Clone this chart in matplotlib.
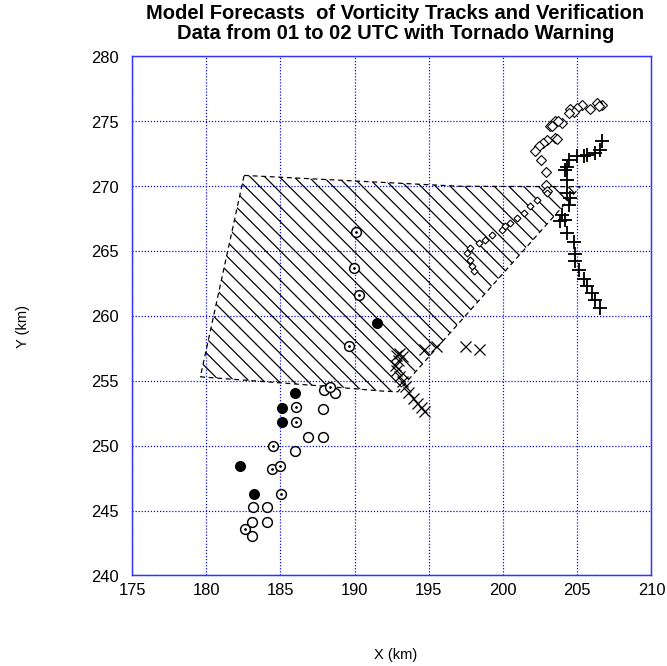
import matplotlib.pyplot as plt
from matplotlib.patches import Polygon

plt.rcParams['font.family'] = ['Liberation Sans', 'DejaVu Sans']
plt.rcParams['hatch.linewidth'] = 1.0

# warning polygon (km)
warn_x = [182.55, 197.1, 205.2, 192.9, 191.9, 187.7, 183.8, 179.6]
warn_y = [270.82, 269.98, 269.95, 254.15, 254.2, 254.6, 254.94, 255.3]

# open circles with centre dot
dot_x = [190.06, 189.97, 190.26, 189.6, 188.35, 186.06, 186.06, 184.5, 184.4, 185.0, 185.03, 182.6]
dot_y = [266.46, 263.7, 261.6, 257.7, 254.5, 253.0, 251.8, 250.0, 248.2, 248.4, 246.3, 243.6]

# plain open circles
open_x = [187.9, 188.7, 187.86, 186.85, 187.86, 186.0, 183.18, 184.12, 183.07, 184.12, 183.07]
open_y = [254.3, 254.05, 252.86, 250.65, 250.65, 249.6, 245.26, 245.26, 244.1, 244.1, 243.0]

# filled circles
fill_x = [191.5, 186.0, 185.1, 185.1, 182.3, 183.2]
fill_y = [259.45, 254.05, 252.9, 251.8, 248.4, 246.3]

# diamonds (northern track)
dia_x = [206.67, 206.33, 206.44, 205.84, 205.32, 204.98, 204.53, 204.76, 204.42, 203.97,
         203.52, 203.7, 203.19, 203.3, 203.52, 202.96, 203.6, 202.7, 202.4, 202.17,
         202.56, 202.9, 202.9, 202.96]
dia_y = [276.27, 276.4, 276.2, 275.9, 276.27, 276.02, 275.9, 275.7, 275.6, 274.87,
         274.99, 275.0, 274.6, 274.6, 273.7, 273.58, 273.6, 273.3, 273.06, 272.7,
         272.04, 271.06, 270.1, 269.6]

# small markers along the warning diagonal
chain_x = [202.96, 202.29, 201.84, 201.39, 200.94, 200.49, 200.15, 199.93, 199.25, 198.8,
           198.35, 197.79, 197.57, 197.79, 197.9, 198.01]
chain_y = [269.47, 268.95, 268.43, 267.93, 267.54, 267.15, 266.89, 266.64, 266.25, 265.86,
           265.61, 265.23, 264.84, 264.33, 263.81, 263.42]

# plus track
plus_x = [206.67, 206.56, 206.2, 205.66, 205.43, 204.99, 204.42, 204.31, 204.2, 204.3,
          204.3, 204.53, 204.42, 203.97, 203.86, 204.2, 204.3, 204.76, 204.83, 204.83,
          205.1, 205.43, 205.66, 206.0, 206.22, 206.56]
plus_y = [273.45, 272.8, 272.55, 272.4, 272.3, 272.3, 272.04, 271.5, 271.26, 270.5,
          269.46, 269.08, 268.57, 267.8, 267.28, 267.4, 266.4, 265.7, 264.8, 264.2,
          263.55, 262.8, 262.27, 261.76, 261.24, 260.6]

# x track
cross_x = [193.0, 192.8, 193.2, 192.9, 192.7, 192.8, 193.0, 193.2, 193.4, 193.6,
           193.9, 194.2, 194.5, 194.7, 194.64, 195.5, 197.45, 198.35]
cross_y = [257.1, 257.0, 256.9, 256.6, 256.2, 255.8, 255.4, 255.0, 254.6, 254.1,
           253.7, 253.3, 253.0, 252.7, 257.45, 257.64, 257.64, 257.44]

fig = plt.figure(figsize=(667.5 / 88, 666.5 / 88), dpi=88)
ax = fig.add_axes([132 / 667, 1 - 575.5 / 666, 519 / 667, 518.8 / 666])

ax.add_patch(Polygon(list(zip(warn_x, warn_y)), closed=True, facecolor='none',
                     edgecolor='black', hatch='\\\\', linestyle=(0, (4, 3)), lw=1, zorder=2))

ax.plot(open_x, open_y, 'o', ms=8, mfc='white', mec='black', mew=1.2, zorder=3)
ax.plot(dot_x, dot_y, 'o', ms=8, mfc='white', mec='black', mew=1.2, zorder=3)
ax.plot(dot_x, dot_y, '.', ms=2.5, color='black', zorder=4)
ax.plot(fill_x, fill_y, 'o', ms=8, color='black', zorder=3)
ax.plot(dia_x, dia_y, 'D', ms=5.5, mfc='white', mec='black', mew=0.9, zorder=3)
ax.plot(chain_x, chain_y, 'D', ms=4, mfc='white', mec='black', mew=0.9, zorder=3)
ax.plot(plus_x, plus_y, '+', ms=11, color='black', mew=1.5, zorder=3)
ax.plot(cross_x, cross_y, 'x', ms=9, color='black', mew=1, zorder=3)

ax.set_xlim(175, 210)
ax.set_ylim(240, 280)
ax.set_xticks(range(175, 211, 5))
ax.set_yticks(range(240, 281, 5))
ax.grid(True, color='#0000ff', linestyle=(0, (1, 1.5)), lw=1)
ax.set_axisbelow(True)
for s in ax.spines.values():
    s.set_color('#3333ff')
    s.set_linewidth(1.2)
ax.tick_params(length=0, labelsize=13.5, pad=6)
ax.tick_params(axis='y', pad=11)

fig.text(395 / 667, 1 - 13 / 666, 'Model Forecasts  of Vorticity Tracks and Verification',
         ha='center', va='center', fontsize=16.5, fontweight='bold')
fig.text(395 / 667, 1 - 33 / 666, 'Data from 01 to 02 UTC with Tornado Warning',
         ha='center', va='center', fontsize=16.5, fontweight='bold')
fig.text(395 / 667, 1 - 655 / 666, 'X (km)', ha='center', va='center', fontsize=12)
fig.text(23 / 667, 1 - 326 / 666, 'Y (km)', ha='center', va='center', fontsize=12, rotation=90)

fig.savefig('out.png', dpi=88)
